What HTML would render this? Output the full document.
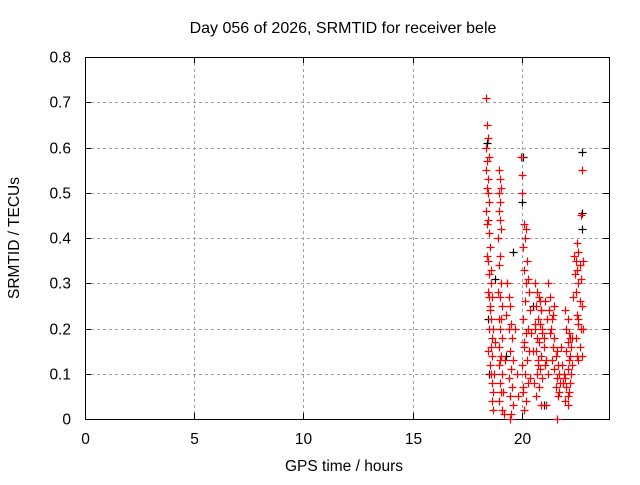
<!DOCTYPE html>
<html><head><meta charset="utf-8"><style>
body{margin:0;background:#fff}
svg text{font-family:"Liberation Sans",sans-serif;font-size:15.5px;fill:#000}
</style></head><body>
<svg id="c" width="640" height="480"></svg>
<script>
const xTicks=[0,5,10,15,20];
const yTicks=[0,0.1,0.2,0.3,0.4,0.5,0.6,0.7,0.8];
const yTickLabels=["0","0.1","0.2","0.3","0.4","0.5","0.6","0.7","0.8"];
const redHours=[18.35,18.4,18.45,18.38,18.5,18.42,18.36,18.48,18.4,18.44,18.52,18.37,18.46,18.4,18.5,18.55,18.42,18.47,18.6,18.52,18.58,18.48,18.62,18.55,18.6,18.5,18.65,18.58,18.62,18.55,18.6,18.65,18.7,18.62,18.68,
18.95,19.0,19.05,18.98,19.02,18.95,19.0,19.05,18.92,19.0,18.95,19.05,18.9,19.0,19.08,18.95,19.02,19.1,18.98,19.05,18.95,19.1,19.0,19.05,18.98,19.1,19.2,
19.35,19.4,19.45,19.5,19.4,19.55,19.45,19.6,19.5,19.42,19.55,19.48,19.6,19.5,19.45,
19.95,20.0,20.02,20.1,20.2,20.15,20.05,20.25,20.1,20.3,20.2,20.35,20.15,20.4,20.05,20.3,20.2,20.1,20.35,20.25,20.0,20.15,20.3,20.05,20.2,20.1,
20.6,20.7,20.8,20.65,20.9,20.75,20.85,20.6,20.95,20.7,20.8,21.0,20.65,20.9,20.75,21.05,20.85,20.7,20.95,20.8,20.65,20.9,
21.2,21.3,21.25,21.4,21.35,21.5,21.45,21.6,21.55,21.4,21.65,21.5,21.7,21.6,21.75,21.55,21.7,21.65,21.1,21.6,
22.0,22.1,22.05,22.15,22.2,22.1,22.25,22.05,22.2,22.15,22.3,22.1,22.25,22.0,22.2,22.05,22.15,22.1,22.0,22.1,
22.75,22.7,22.55,22.6,22.5,22.65,22.55,22.7,22.6,22.5,22.65,22.75,22.55,22.6,22.7,22.5,22.65,22.55,22.6,22.75,22.8,
18.45,18.55,19.05,19.0,20.05,20.1,20.95,21.05,21.45,21.95,22.3,22.45,19.7,20.5,21.15,
18.5,18.7,18.75,19.15,19.25,19.8,19.85,20.45,20.55,20.6,20.75,20.85,21.0,21.2,21.3,21.5,21.85,21.9,22.35,22.4,22.6,22.8,18.8,19.3,20.4,20.9,21.1,21.8];
const redValues=[0.71,0.65,0.62,0.6,0.58,0.57,0.55,0.53,0.51,0.5,0.48,0.46,0.44,0.43,0.41,0.38,0.36,0.35,0.33,0.32,0.3,0.28,0.27,0.24,0.22,0.2,0.18,0.16,0.14,0.12,0.1,0.08,0.06,0.04,0.02,
0.55,0.53,0.51,0.5,0.48,0.46,0.44,0.42,0.4,0.36,0.34,0.3,0.28,0.27,0.25,0.22,0.2,0.18,0.16,0.14,0.12,0.1,0.08,0.06,0.04,0.02,0.01,
0.3,0.27,0.25,0.21,0.2,0.18,0.15,0.13,0.11,0.09,0.07,0.05,0.03,0.01,0.0,
0.58,0.54,0.5,0.43,0.42,0.4,0.38,0.35,0.33,0.31,0.3,0.28,0.26,0.24,0.22,0.2,0.19,0.17,0.15,0.13,0.12,0.1,0.08,0.06,0.04,0.02,
0.3,0.28,0.27,0.25,0.24,0.22,0.21,0.2,0.19,0.18,0.17,0.16,0.15,0.14,0.13,0.12,0.11,0.1,0.09,0.07,0.05,0.03,
0.3,0.27,0.24,0.22,0.2,0.18,0.16,0.15,0.14,0.13,0.12,0.11,0.1,0.09,0.08,0.07,0.06,0.05,0.03,0.0,
0.24,0.22,0.2,0.19,0.18,0.17,0.16,0.15,0.14,0.13,0.12,0.11,0.1,0.09,0.08,0.07,0.06,0.05,0.04,0.03,
0.55,0.45,0.39,0.37,0.35,0.34,0.33,0.31,0.3,0.28,0.26,0.25,0.23,0.22,0.2,0.18,0.16,0.14,0.13,0.14,0.2,
0.15,0.25,0.22,0.13,0.07,0.16,0.2,0.26,0.23,0.1,0.18,0.32,0.2,0.15,0.22,
0.27,0.2,0.1,0.06,0.13,0.1,0.05,0.19,0.08,0.21,0.12,0.26,0.18,0.1,0.19,0.25,0.12,0.08,0.27,0.36,0.21,0.35,0.17,0.23,0.09,0.24,0.13,0.16];
const blackHours=[18.4,18.45,18.8,19.6,20.0,20.05,22.75,22.75,22.75,21.0,20.5,18.5,19.3];
const blackValues=[0.61,0.22,0.31,0.37,0.48,0.58,0.59,0.455,0.42,0.03,0.25,0.1,0.14];
const X0=85,X1=609,Y0=419,Y1=57;
const sx=h=>X0+(h/24)*(X1-X0);
const sy=v=>Y0-(v/0.8)*(Y0-Y1);
const svg=document.getElementById('c');
const NS="http://www.w3.org/2000/svg";
function mk(t,a){const e=document.createElementNS(NS,t);for(const k in a)e.setAttribute(k,a[k]);svg.appendChild(e);return e;}
yTicks.forEach((v,i)=>{
  const y=Math.round(sy(v))+0.5;
  if(i>0&&i<yTicks.length-1){const g=mk('line',{x1:X0,x2:X1,y1:y,y2:y,stroke:'#a0a0a0','stroke-dasharray':'3,3'});
  
  }
  const t=mk('text',{x:X0-14,y:y+5,'text-anchor':'end'});t.textContent=yTickLabels[i];
  
  
  mk('line',{x1:X0,x2:X0+6,y1:y,y2:y,stroke:'#000'});
  mk('line',{x1:X1-6,x2:X1,y1:y,y2:y,stroke:'#000'});
});
xTicks.forEach((h,i)=>{
  const x=Math.round(sx(h))+0.5;
  if(i>0){const g=mk('line',{x1:x,x2:x,y1:Y1,y2:Y0,stroke:'#a0a0a0','stroke-dasharray':'3,3'});
  
  }
  const t=mk('text',{x:x,y:Y0+25,'text-anchor':'middle'});t.textContent=String(h);
  
  
  mk('line',{x1:x,x2:x,y1:Y0,y2:Y0-6,stroke:'#000'});
  mk('line',{x1:x,x2:x,y1:Y1,y2:Y1+6,stroke:'#000'});
});
const fr=mk('rect',{x:X0+0.5,y:Y1+0.5,width:X1-X0,height:Y0-Y1,fill:'none',stroke:'#000'});


function plus(h,v,col,name){
  const x=Math.round(sx(h))+0.5,y=Math.round(sy(v))+0.5;
  const p=mk('path',{d:`M${x-4} ${y}H${x+4}M${x} ${y-4}V${y+4}`,stroke:col,'stroke-width':1.2,fill:'none'});
  
  
}
blackHours.forEach((h,i)=>plus(h,blackValues[i],'#000','black-point'));
redHours.forEach((h,i)=>plus(h,redValues[i],'#ff0000','red-point'));
</script>
<svg width="640" height="480" style="position:absolute;left:0;top:0">
<text x="343" y="33" text-anchor="middle" style="font-size:16px">Day 056 of 2026, SRMTID for receiver bele</text>
<text x="344" y="471" text-anchor="middle">GPS time / hours</text>
<text x="19" y="238" text-anchor="middle" transform="rotate(-90 19 238)">SRMTID / TECUs</text>
</svg>
</body></html>
